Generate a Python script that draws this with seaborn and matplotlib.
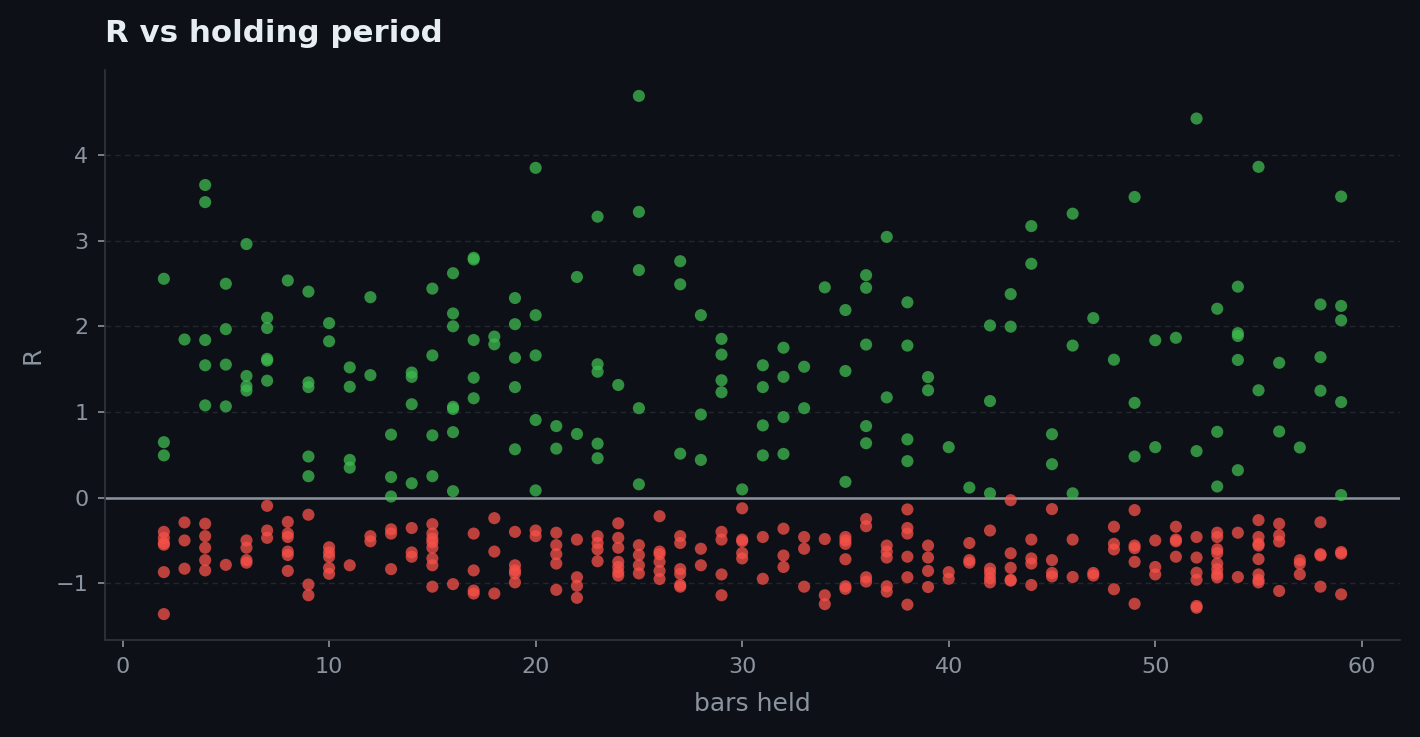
import matplotlib
matplotlib.use("Agg")
import matplotlib.pyplot as plt
import seaborn as sns
import pandas as pd

# ---- data ----
win_bars = [2, 2, 2,
            3,
            4, 4, 4, 4, 4,
            5, 5, 5, 5,
            6, 6, 6, 6,
            7, 7, 7, 7, 7,
            8,
            9, 9, 9, 9, 9,
            10, 10,
            11, 11, 11, 11,
            12, 12,
            13, 13, 13,
            14, 14, 14, 14,
            15, 15, 15, 15,
            16, 16, 16, 16, 16, 16, 16,
            17, 17, 17, 17, 17,
            18, 18,
            19, 19, 19, 19, 19,
            20, 20, 20, 20, 20,
            21, 21,
            22, 22,
            23, 23, 23, 23, 23,
            24,
            25, 25, 25, 25, 25,
            27, 27, 27,
            28, 28, 28,
            29, 29, 29, 29,
            30,
            31, 31, 31, 31,
            32, 32, 32, 32,
            33, 33,
            34,
            35, 35, 35,
            36, 36, 36, 36, 36,
            37, 37,
            38, 38, 38, 38,
            39, 39,
            40,
            41,
            42, 42, 42,
            43, 43,
            44, 44,
            45, 45,
            46, 46, 46,
            47,
            48,
            49, 49, 49,
            50, 50,
            51,
            52, 52,
            53, 53, 53,
            54, 54, 54, 54, 54,
            55, 55,
            56, 56,
            57,
            58, 58, 58,
            59, 59, 59, 59, 59]
win_r = [2.555, 0.647, 0.493,
         1.846,
         3.65, 3.45, 1.84, 1.545, 1.077,
         2.497, 1.967, 1.553, 1.065,
         2.96, 1.42, 1.30, 1.25,
         2.10, 1.98, 1.62, 1.60, 1.365,
         2.535,
         2.405, 1.345, 1.29, 0.48, 0.25,
         2.037, 1.825,
         1.52, 1.294, 0.44, 0.35,
         2.34, 1.43,
         0.735, 0.24, 0.013,
         1.46, 1.41, 1.09, 0.167,
         2.44, 1.66, 0.727, 0.25,
         2.62, 2.15, 2.00, 1.06, 1.035, 0.764, 0.075,
         2.80, 2.78, 1.84, 1.40, 1.16,
         1.88, 1.79,
         2.33, 2.025, 1.633, 1.29, 0.564,
         3.85, 2.13, 1.66, 0.906, 0.084,
         0.835, 0.572,
         2.576, 0.743,
         3.28, 1.557, 1.47, 0.63, 0.46,
         1.315,
         4.69, 3.336, 2.656, 1.044, 0.155,
         2.76, 2.49, 0.513,
         2.13, 0.97, 0.44,
         1.853, 1.67, 1.37, 1.23,
         0.096,
         1.545, 1.29, 0.843, 0.493,
         1.75, 1.41, 0.94, 0.51,
         1.528, 1.044,
         2.455,
         2.19, 1.478, 0.184,
         2.597, 2.45, 1.787, 0.835, 0.635,
         3.044, 1.17,
         2.28, 1.775, 0.68, 0.426,
         1.407, 1.253,
         0.589,
         0.117,
         2.01, 1.127, 0.05,
         2.376, 1.996,
         3.17, 2.73,
         0.74, 0.39,
         3.315, 1.775, 0.05,
         2.096,
         1.61,
         3.51, 1.106, 0.48,
         1.837, 0.589,
         1.866,
         4.426, 0.543,
         2.205, 0.768, 0.13,
         2.463, 1.92, 1.887, 1.607, 0.32,
         3.862, 1.253,
         1.574, 0.772,
         0.585,
         2.255, 1.64, 1.248,
         3.515, 2.238, 2.07, 1.115, 0.03]

loss_bars = [2, 2, 2, 2, 2, 2,
             3, 3, 3,
             4, 4, 4, 4, 4,
             5,
             6, 6, 6, 6,
             7, 7, 7,
             8, 8, 8, 8, 8, 8,
             9, 9, 9,
             10, 10, 10, 10, 10,
             11,
             12, 12,
             13, 13, 13,
             14, 14, 14,
             15, 15, 15, 15, 15, 15, 15, 15,
             16,
             17, 17, 17, 17,
             18, 18, 18,
             19, 19, 19, 19, 19,
             20, 20,
             21, 21, 21, 21, 21,
             22, 22, 22, 22,
             23, 23, 23, 23,
             24, 24, 24, 24, 24, 24, 24,
             25, 25, 25, 25,
             26, 26, 26, 26, 26, 26,
             27, 27, 27, 27, 27, 27,
             28, 28,
             29, 29, 29, 29,
             30, 30, 30, 30, 30,
             31, 31,
             32, 32, 32,
             33, 33, 33,
             34, 34, 34,
             35, 35, 35, 35, 35, 35,
             36, 36, 36, 36,
             37, 37, 37, 37, 37,
             38, 38, 38, 38, 38, 38,
             39, 39, 39, 39,
             40, 40,
             41, 41, 41,
             42, 42, 42, 42, 42,
             43, 43, 43, 43, 43,
             44, 44, 44, 44,
             45, 45, 45, 45,
             46, 46,
             47, 47,
             48, 48, 48, 48,
             49, 49, 49, 49, 49,
             50, 50, 50,
             51, 51, 51, 51,
             52, 52, 52, 52, 52, 52,
             53, 53, 53, 53, 53, 53, 53, 53,
             54, 54,
             55, 55, 55, 55, 55, 55, 55, 55,
             56, 56, 56, 56,
             57, 57, 57,
             58, 58, 58, 58,
             59, 59, 59]
loss_r = [-0.40, -0.47, -0.53, -0.55, -0.87, -1.36,
          -0.29, -0.50, -0.83,
          -0.305, -0.45, -0.585, -0.73, -0.85,
          -0.785,
          -0.50, -0.585, -0.73, -0.76,
          -0.096, -0.384, -0.47,
          -0.284, -0.42, -0.46, -0.63, -0.67, -0.856,
          -0.20, -1.015, -1.14,
          -0.58, -0.64, -0.69, -0.82, -0.89,
          -0.79,
          -0.45, -0.51,
          -0.37, -0.42, -0.835,
          -0.355, -0.64, -0.69,
          -0.31, -0.42, -0.48, -0.52, -0.585, -0.71, -0.79, -1.04,
          -1.01,
          -0.42, -0.85, -1.085, -1.12,
          -0.24, -0.63, -1.12,
          -0.40, -0.79, -0.85, -0.885, -0.99,
          -0.384, -0.45,
          -0.41, -0.555, -0.66, -0.77, -1.077,
          -0.49, -0.93, -1.03, -1.17,
          -0.45, -0.53, -0.605, -0.743,
          -0.30, -0.47, -0.585, -0.75, -0.81, -0.87, -0.91,
          -0.555, -0.67, -0.79, -0.885,
          -0.217, -0.63, -0.66, -0.75, -0.856, -0.95,
          -0.45, -0.53, -0.835, -0.89, -1.02, -1.04,
          -0.597, -0.79,
          -0.40, -0.49, -0.897, -1.14,
          -0.125, -0.49, -0.51, -0.647, -0.71,
          -0.46, -0.948,
          -0.363, -0.676, -0.81,
          -0.46, -0.597, -1.04,
          -0.484, -1.14, -1.244,
          -0.46, -0.50, -0.54, -0.72, -1.035, -1.065,
          -0.25, -0.334, -0.93, -0.98,
          -0.56, -0.63, -0.70, -1.035, -1.098,
          -0.138, -0.355, -0.42, -0.69, -0.93, -1.25,
          -0.56, -0.70, -0.856, -1.044,
          -0.87, -0.948,
          -0.53, -0.73, -0.76,
          -0.384, -0.83, -0.88, -0.94, -0.99,
          -0.03, -0.65, -0.82, -0.96, -0.97,
          -0.49, -0.71, -0.77, -1.02,
          -0.134, -0.73, -0.88, -0.92,
          -0.49, -0.927,
          -0.88, -0.91,
          -0.34, -0.54, -0.605, -1.07,
          -0.146, -0.56, -0.59, -0.75, -1.24,
          -0.50, -0.81, -0.897,
          -0.34, -0.49, -0.51, -0.69,
          -0.46, -0.70, -0.877, -0.96, -1.265, -1.286,
          -0.41, -0.46, -0.605, -0.647, -0.77, -0.835, -0.897, -0.93,
          -0.41, -0.927,
          -0.263, -0.46, -0.54, -0.56, -0.718, -0.897, -0.96, -0.99,
          -0.305, -0.44, -0.513, -1.09,
          -0.73, -0.77, -0.897,
          -0.288, -0.66, -0.676, -1.04,
          -0.635, -0.655, -1.13]

title = "R vs holding period"
x_label = "bars held"
y_label = "R"

# ---- style ----
BG = "#0d1117"
GREEN = "#3fb950"
RED = "#f85149"
MUTED = "#8b949e"
SPINE = "#30363d"
TITLE_C = "#e6edf3"

sns.set_theme(style="dark")
plt.rcParams["font.family"] = ["DejaVu Sans"]

df = pd.DataFrame({
    "bars": win_bars + loss_bars,
    "R": win_r + loss_r,
    "outcome": ["win"] * len(win_r) + ["loss"] * len(loss_r),
})

fig, ax = plt.subplots(figsize=(7.1, 3.685), dpi=200)
fig.patch.set_facecolor(BG)
ax.set_facecolor(BG)
fig.subplots_adjust(left=105 / 1420, right=1400 / 1420, top=1 - 70 / 737, bottom=1 - 640 / 737)

sns.scatterplot(data=df, x="bars", y="R", hue="outcome",
                palette={"win": GREEN, "loss": RED},
                s=19, alpha=0.75, linewidth=0, legend=False, ax=ax, zorder=3)

ax.axhline(0, color=MUTED, lw=0.9, zorder=2)
ax.yaxis.grid(True, color=SPINE, lw=0.5, ls=(0, (4, 3)), alpha=0.6)
ax.xaxis.grid(False)

for s in ["top", "right"]:
    ax.spines[s].set_visible(False)
for s in ["left", "bottom"]:
    ax.spines[s].set_visible(True)
    ax.spines[s].set_color(SPINE)
    ax.spines[s].set_linewidth(0.6)

ax.tick_params(axis="both", colors=MUTED, labelsize=8, length=2.5, width=0.6,
               direction="out", bottom=True, left=True)
ax.set_xticks([0, 10, 20, 30, 40, 50, 60])
ax.set_yticks([-1, 0, 1, 2, 3, 4])

ax.set_xlabel(x_label, color=MUTED, fontsize=9, labelpad=5.5)
ax.set_ylabel(y_label, color=MUTED, fontsize=9)
ax.set_title(title, loc="left", color=TITLE_C, fontsize=11.1, fontweight="bold", pad=10)
ax.title.set_x(0.0015)

fig.savefig("out.png", dpi=200, facecolor=BG)
